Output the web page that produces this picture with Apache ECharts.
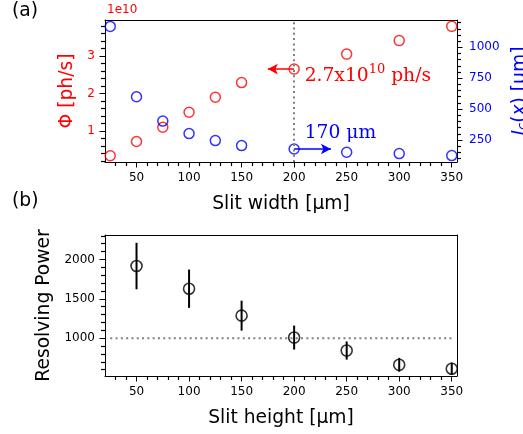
<!DOCTYPE html>
<html><head><meta charset="utf-8">
<script src="https://cdn.jsdelivr.net/npm/echarts/dist/echarts.min.js"></script>
<style>html,body{margin:0;padding:0;background:#fff}#c{width:523px;height:434px}</style>
</head><body><div id="c"></div>
<script>
// ---- data ----
const widths = [25, 50, 75, 100, 125, 150, 200, 250, 300, 350];      // slit width [µm]
const flux = [0.34, 0.72, 1.1, 1.5, 1.9, 2.29, 2.65, 3.05, 3.41, 3.79]; // Φ ×1e10 ph/s
const coherence = [1169, 600, 403, 302, 245, 205, 177, 151, 140, 124];  // I_c(x) [µm]
const heights = [50, 100, 150, 200, 250, 300, 350];                   // slit height [µm]
const resolvingPower = [1916, 1628, 1286, 1008, 843, 662, 612];
const rpError = [295, 243, 190, 152, 115, 88, 78];
const rpReference = 1000;
const refRange = [25, 350];
const xTickLabels = [50, 100, 150, 200, 250, 300, 350];
const fluxTicks = [1, 2, 3];
const cohTicks = [250, 500, 750, 1000];
const rpTicks = [1000, 1500, 2000];
const markerWidth = 200;
const fluxNote = 2.65, cohNote = 177;

const FONT = 'DejaVu Sans';
const SERIF = 'DejaVu Serif';
const plain = v => String(v);

function axis(extra, ticks, step, labelColor, labelMargin) {
  return Object.assign({
    type: 'value',
    minInterval: step, maxInterval: step,
    splitLine: { show: false },
    axisLine: { show: true, lineStyle: { color: '#000', width: 1 } },
    axisTick: { show: true, length: 5.5, customValues: ticks, lineStyle: { color: '#000', width: 1 } },
    minorTick: { show: true, splitNumber: 5, length: 4, lineStyle: { color: '#000', width: 1.2 } },
    axisLabel: { customValues: ticks, formatter: plain, fontSize: 12, fontFamily: FONT, color: labelColor, margin: labelMargin },
    nameTextStyle: { fontSize: 18.7, fontFamily: FONT, color: '#000' }
  }, extra);
}
function frame(extra) {
  return Object.assign({
    type: 'value', splitLine: { show: false },
    axisLine: { show: true, lineStyle: { color: '#000', width: 1 } },
    axisTick: { show: false }, axisLabel: { show: false }
  }, extra);
}

const X0 = 20, X1 = 355;

const chart = echarts.init(document.getElementById('c'), null, { renderer: 'canvas' });

const option = {
  animation: false,
  backgroundColor: '#fff',
  textStyle: { fontFamily: FONT },
  grid: [
    { left: 105, top: 20, width: 352, height: 142, outerBoundsMode: 'none' },
    { left: 105, top: 235, width: 352, height: 141, outerBoundsMode: 'none' }
  ],
  xAxis: [
    axis({ gridIndex: 0, min: X0, max: X1, position: 'bottom',
      name: 'Slit width [μm]', nameLocation: 'middle', nameGap: 33 }, xTickLabels, 50, '#000', 10),
    axis({ gridIndex: 1, min: X0, max: X1, position: 'bottom',
      name: 'Slit height [μm]', nameLocation: 'middle', nameGap: 33 }, xTickLabels, 50, '#000', 10),
    frame({ gridIndex: 0, min: X0, max: X1, position: 'top' }),
    frame({ gridIndex: 1, min: X0, max: X1, position: 'top' })
  ],
  yAxis: [
    axis({ gridIndex: 0, min: 0.173, max: 3.96, position: 'left',
      name: 'Φ [ph/s]', nameLocation: 'middle', nameRotate: 90, nameGap: 28,
      nameTextStyle: { fontSize: 18.7, fontFamily: FONT, color: '#ff0000' } }, fluxTicks, 1, '#ff0000', 10),
    axis({ gridIndex: 0, min: 72, max: 1221, position: 'right',
      name: '{i|I}{sub|c}{n|(}{i|x}{n|) [μm]}', nameLocation: 'middle', nameRotate: 90, nameGap: 51,
      nameTextStyle: { fontSize: 18.7, fontFamily: FONT, color: '#0000ff',
        rich: {
          i: { fontSize: 18.7, fontFamily: FONT, fontStyle: 'italic', color: '#0000ff' },
          n: { fontSize: 18.7, fontFamily: FONT, color: '#0000ff' },
          sub: { fontSize: 13, fontFamily: FONT, fontStyle: 'italic', color: '#0000ff', verticalAlign: 'bottom', padding: [6, 0, 0, 0] }
        } } }, cohTicks, 250, '#0000ff', 12),
    axis({ gridIndex: 1, min: 520, max: 2310, position: 'left',
      name: 'Resolving Power', nameLocation: 'middle', nameRotate: 90, nameGap: 49 }, rpTicks, 500, '#000', 10),
    frame({ gridIndex: 1, min: 520, max: 2310, position: 'right' })
  ],
  graphic: [
    { type: 'text', left: 12, top: 2, style: { text: '(a)', fontSize: 18.7, fontFamily: FONT, fill: '#000' } },
    { type: 'text', left: 12, top: 192, style: { text: '(b)', fontSize: 18.7, fontFamily: FONT, fill: '#000' } },
    { type: 'text', left: 107, top: 4, style: { text: '1e10', fontSize: 12, fontFamily: FONT, fill: '#ff0000' } }
  ],
  series: [
    {
      type: 'scatter', name: 'flux', xAxisIndex: 0, yAxisIndex: 0, z: 3,
      data: widths.map((w, i) => [w, flux[i]]),
      symbol: 'circle', symbolSize: 10,
      itemStyle: { color: 'rgba(0,0,0,0)', borderColor: '#ff0000', borderWidth: 1.5 },
      markLine: {
        silent: true, animation: false,
        data: [
          [ { xAxis: markerWidth, yAxis: 0.173, symbol: 'none', lineStyle: { type: [2, 3.3], color: '#808080', width: 2 } },
            { xAxis: markerWidth, yAxis: 3.96, symbol: 'none' } ],
          [ { coord: [markerWidth, fluxNote], symbol: 'none', lineStyle: { type: 'solid', color: '#ff0000', width: 1.5 } },
            { coord: [175, fluxNote], symbol: 'arrow', symbolSize: [8, 10] } ]
        ],
        label: { show: false }
      },
      markPoint: {
        silent: true, symbolSize: 0,
        data: [{ coord: [210, 2.53], value: 0 }],
        label: {
          show: true, position: [0, 0], align: 'left', verticalAlign: 'middle',
          formatter: '{a|2.7x10}{s|10}{a| ph/s}',
          rich: {
            a: { fontSize: 18.7, fontFamily: SERIF, color: '#ff0000', lineHeight: 24, verticalAlign: 'bottom' },
            s: { fontSize: 13, fontFamily: SERIF, color: '#ff0000', lineHeight: 24, verticalAlign: 'bottom', padding: [0, 0, 9, 0] }
          }
        }
      }
    },
    {
      type: 'scatter', name: 'coherence', xAxisIndex: 0, yAxisIndex: 1, z: 4,
      data: widths.map((w, i) => [w, coherence[i]]),
      symbol: 'circle', symbolSize: 10,
      itemStyle: { color: 'rgba(0,0,0,0)', borderColor: '#0000ff', borderWidth: 1.5 },
      markLine: {
        silent: true, animation: false,
        data: [
          [ { coord: [markerWidth, cohNote], symbol: 'none', lineStyle: { type: 'solid', color: '#0000ff', width: 1.5 } },
            { coord: [235, cohNote], symbol: 'arrow', symbolSize: [8, 10] } ]
        ],
        label: { show: false }
      },
      markPoint: {
        silent: true, symbolSize: 0,
        data: [{ coord: [210, 304], value: 0 }],
        label: {
          show: true, position: [0, 0], align: 'left', verticalAlign: 'middle',
          formatter: '170 μm',
          fontSize: 18.7, fontFamily: SERIF, color: '#0000ff'
        }
      }
    },
    {
      type: 'line', name: 'ref', xAxisIndex: 1, yAxisIndex: 2, z: 1,
      data: refRange.map(x => [x, rpReference]),
      symbol: 'none', silent: true,
      lineStyle: { type: [2, 3.3], color: '#808080', width: 2 }
    },
    {
      type: 'custom', name: 'errors', xAxisIndex: 1, yAxisIndex: 2, z: 2,
      data: heights.map((h, i) => [h, resolvingPower[i] - rpError[i], resolvingPower[i] + rpError[i]]),
      renderItem: function (params, api) {
        const p1 = api.coord([api.value(0), api.value(1)]);
        const p2 = api.coord([api.value(0), api.value(2)]);
        return { type: 'line', shape: { x1: p1[0], y1: p1[1], x2: p2[0], y2: p2[1] },
          style: { stroke: '#000', lineWidth: 2 } };
      }
    },
    {
      type: 'scatter', name: 'rp', xAxisIndex: 1, yAxisIndex: 2, z: 3,
      data: heights.map((h, i) => [h, resolvingPower[i]]),
      symbol: 'circle', symbolSize: 11,
      itemStyle: { color: 'rgba(0,0,0,0)', borderColor: '#000', borderWidth: 1.6 }
    }
  ]
};
chart.setOption(option);
</script>
</body></html>
